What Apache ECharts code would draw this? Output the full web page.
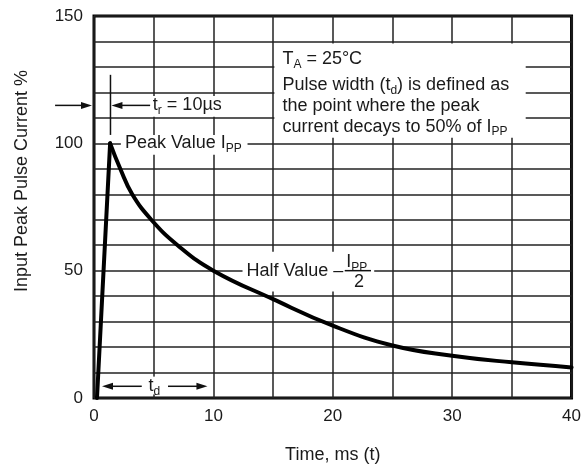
<!DOCTYPE html>
<html><head><meta charset="utf-8">
<script src="https://cdn.jsdelivr.net/npm/echarts@6/dist/echarts.min.js"></script>
<style>html,body{margin:0;padding:0;background:#fff}#c{width:584px;height:469px}</style>
</head><body><div id="c"></div>
<script>
// ---- data ----
const riseTime = [0.25, 1.35];
const riseValue = [0, 100];
const decayTime = [1.35, 2.2, 3.2, 4.8, 7, 10, 15, 20, 25, 30, 35, 40];
const decayValue = [100, 90, 80, 70, 60, 50, 38.8, 28.4, 20.6, 16.6, 14, 12];
const xTickLabels = [0, 10, 20, 30, 40];
const yTickLabels = [0, 50, 100, 150];

const FONT = '"Liberation Sans", Arial, Helvetica, sans-serif';
const INK = '#1a1a1a';

const chart = echarts.init(document.getElementById('c'), null, {renderer: 'canvas'});
chart.setOption({
  animation: false,
  backgroundColor: '#fff',
  grid: {left: 94, right: 11, top: 16, bottom: 71, show: true, borderColor: '#000', borderWidth: 3, z: 0},
  xAxis: {
    type: 'value', min: 0, max: 40, interval: 5, z: 0,
    axisLine: {show: false}, axisTick: {show: false},
    splitLine: {show: true, lineStyle: {color: '#222', width: 1.5}},
    axisLabel: {formatter: v => xTickLabels.includes(v) ? String(v) : '', color: INK, fontSize: 17, fontFamily: FONT, margin: 10},
    name: 'Time, ms (t)', nameLocation: 'middle', nameGap: 48,
    nameTextStyle: {fontSize: 18, color: INK, fontFamily: FONT}
  },
  yAxis: {
    type: 'value', min: 0, max: 150, interval: 10, z: 0,
    axisLine: {show: false}, axisTick: {show: false},
    splitLine: {show: true, lineStyle: {color: '#222', width: 1.5}},
    axisLabel: {formatter: v => yTickLabels.includes(v) ? String(v) : '', color: INK, fontSize: 17, fontFamily: FONT, margin: 11}
  },
  series: [
    {type: 'line', data: riseTime.map((t, i) => [t, riseValue[i]]), showSymbol: false, z: 5,
     lineStyle: {color: '#000', width: 4, cap: 'round', join: 'round'}},
    {type: 'line', data: decayTime.map((t, i) => [t, decayValue[i]]), showSymbol: false, z: 5,
     smooth: 0.45,
     lineStyle: {color: '#000', width: 4, cap: 'round', join: 'round'}}
  ]
});

function P(x, y) { return chart.convertToPixel({gridIndex: 0}, [x, y]); }

const main = {fontSize: 18, fontFamily: FONT, fill: INK, color: INK, lineHeight: 22};
const sub = {fontSize: 12, fontFamily: FONT, fill: INK, color: INK, lineHeight: 15, verticalAlign: 'bottom'};

function whiteRect(x1, y1, x2, y2) {
  const a = P(x1, y1), b = P(x2, y2);
  return {type: 'rect', z: 1, shape: {x: Math.min(a[0], b[0]), y: Math.min(a[1], b[1]), width: Math.abs(b[0] - a[0]), height: Math.abs(b[1] - a[1])},
          style: {fill: '#fff'}, silent: true};
}
function txt(x, y, text, align) {
  const p = P(x, y);
  return {type: 'text', z: 2, x: p[0], y: p[1], silent: true,
          style: {x: 0, y: 0, text: text, rich: {a: main, b: sub}, fill: INK, font: '18px ' + FONT,
                  align: align || 'left', textAlign: align || 'left', verticalAlign: 'middle', textVerticalAlign: 'middle'}};
}
function seg(x1, y1, x2, y2, w) {
  const a = P(x1, y1), b = P(x2, y2);
  return {type: 'line', z: 2, silent: true, shape: {x1: a[0], y1: a[1], x2: b[0], y2: b[1]}, style: {stroke: '#111', lineWidth: w || 1.5}};
}
// arrow with head at (x2,y2)
function arrow(x1, y1, x2, y2) {
  const a = P(x1, y1), b = P(x2, y2);
  const dx = b[0] - a[0], dy = b[1] - a[1], L = Math.hypot(dx, dy), ux = dx / L, uy = dy / L;
  const len = 11, hw = 3.5;
  const bx = b[0] - ux * len, by = b[1] - uy * len;
  return [
    {type: 'line', z: 2, silent: true, shape: {x1: a[0], y1: a[1], x2: bx + ux * 2, y2: by + uy * 2}, style: {stroke: '#111', lineWidth: 1.5}},
    {type: 'polygon', z: 2, silent: true, shape: {points: [[b[0], b[1]], [bx - uy * hw, by + ux * hw], [bx + uy * hw, by - ux * hw]]}, style: {fill: '#111'}}
  ];
}

function buildGraphics() {
  const els = [];
  // white backgrounds
  els.push(whiteRect(15.11, 139.2, 36.16, 102.2));   // note box
  els.push(whiteRect(4.68, 118.6, 11.19, 110.4));    // tr label
  els.push(whiteRect(2.25, 103.3, 12.86, 95.5));     // peak label
  els.push(whiteRect(12.44, 57.4, 23.47, 41.8));     // half label
  els.push(whiteRect(4.26, 8.4, 6.35, 1.4));         // td label

  // tr annotation
  els.push(...arrow(-3.26, 114.9, -0.17, 114.9));
  els.push(seg(1.38, 126.9, 1.38, 103.3));
  els.push(...arrow(4.7, 114.9, 1.46, 114.9));
  els.push(txt(4.93, 114.9, '{a|t}{b|r}{a| = 10µs}'));

  // peak label
  els.push(txt(2.59, 100, '{a|Peak Value I}{b|PP}'));

  // note box text
  els.push(txt(15.78, 133.0, '{a|T}{b|A}{a| = 25°C}'));
  els.push(txt(15.78, 122.7, '{a|Pulse width (t}{b|d}{a|) is defined as}'));
  els.push(txt(15.78, 114.6, '{a|the point where the peak}'));
  els.push(txt(15.78, 106.5, '{a|current decays to 50% of I}{b|PP}'));

  // half value label
  els.push(txt(12.78, 50, '{a|Half Value –}'));
  els.push(txt(21.13, 53.3, '{a|I}{b|PP}'));
  els.push(seg(21.0, 50, 23.2, 50, 1.5));
  els.push(txt(22.2, 45.6, '{a|2}', 'center'));

  // td annotation
  els.push(...arrow(4.0, 4.6, 0.67, 4.6));
  els.push(...arrow(6.2, 4.6, 9.5, 4.6));
  els.push(txt(5.05, 4.6, '{a|t}{b|d}', 'center'));

  // y axis title
  els.push({type: 'text', z: 2, x: 22, y: 181, rotation: Math.PI / 2, silent: true,
            style: {x: 0, y: 0, text: 'Input Peak Pulse Current %', fill: INK, font: '18px ' + FONT,
                    align: 'center', textAlign: 'center', verticalAlign: 'middle', textVerticalAlign: 'middle'}});
  return els;
}
chart.setOption({graphic: {elements: buildGraphics()}});
</script>
</body></html>
